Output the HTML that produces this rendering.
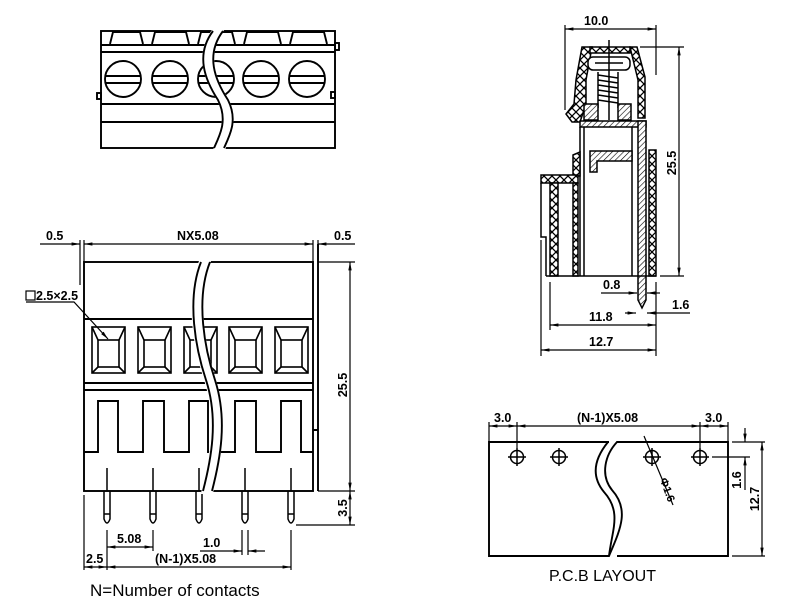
<!DOCTYPE html>
<html><head><meta charset="utf-8"><style>
html,body{margin:0;padding:0;background:#fff;}
svg{display:block;}
text{font-family:"Liberation Sans",sans-serif;fill:#000;}
</style></head><body>
<svg width="800" height="616" viewBox="0 0 800 616" xmlns="http://www.w3.org/2000/svg">
<defs>
<pattern id="xh" width="8" height="8" patternUnits="userSpaceOnUse">
<rect width="8" height="8" fill="#fff"/>
<path d="M0 0L8 8M8 0L0 8" stroke="#000" stroke-width="1.3"/>
</pattern>
<pattern id="dh" width="4" height="4" patternUnits="userSpaceOnUse" patternTransform="rotate(45)">
<rect width="4" height="4" fill="#fff"/>
<line x1="0" y1="0" x2="0" y2="4" stroke="#000" stroke-width="1.2"/>
</pattern>
<marker id="a" viewBox="0 0 10 10" refX="10" refY="5" markerWidth="7" markerHeight="7" orient="auto-start-reverse"><path d="M0 3L10 5L0 7z" fill="#000"/></marker>
</defs>
<g fill="none" stroke="#000" stroke-width="1.9">
<!-- TOP VIEW -->
<rect x="101" y="31" width="234" height="117"/>
<line x1="101" y1="45" x2="335" y2="45"/>
<line x1="101" y1="52" x2="335" y2="52"/>
<line x1="101" y1="104" x2="335" y2="104"/>
<line x1="101" y1="122" x2="335" y2="122"/>
<path d="M110 44L113 32H140L143 44M152 44L155 32H186L189 44M198 44L201 32H232L235 44M244 44L247 32H278L281 44M290 44L293 32H324L327 44"/>
<g>
<circle cx="123" cy="79" r="18"/><circle cx="170" cy="79" r="18"/><circle cx="216" cy="79" r="18"/><circle cx="261" cy="79" r="18"/><circle cx="307" cy="79" r="18"/>
<path d="M105 76H141M105 83H141M152 76H188M152 83H188M198 76H234M198 83H234M243 76H279M243 83H279M289 76H325M289 83H325"/>
</g>
<rect x="97" y="93" width="4" height="6"/><rect x="335" y="43" width="4" height="7"/><rect x="331" y="92" width="4" height="6"/>
<path d="M213 30C195 55 205 80 218 100C228 120 220 135 214 150 L224 150C230 135 238 120 228 100C215 80 205 55 223 30Z" fill="#fff" stroke="#fff"/>
<path d="M213 31C195 55 205 80 218 100C228 120 220 135 214 148M223 31C205 55 215 80 228 100C238 120 230 135 224 148"/>

<!-- FRONT VIEW -->
<rect x="84" y="262" width="229" height="229"/>
<path d="M318 244V430H313M318 430V491"/>
<line x1="84" y1="319" x2="313" y2="319"/>
<line x1="84" y1="383" x2="313" y2="383"/>
<line x1="84" y1="390" x2="313" y2="390"/>
<path d="M84 452H98V401H118V452H143V401H164V452H189V401H208V452H235V401H256V452H281V401H301V452H313"/>
<g stroke-width="1.6">
<rect x="92" y="327" width="33" height="46"/><rect x="98" y="340" width="21" height="27"/><path d="M92 327L98 340M125 327L119 340M92 373L98 367M125 373L119 367"/>
<rect x="138" y="327" width="33" height="46"/><rect x="144" y="340" width="21" height="27"/><path d="M138 327L144 340M171 327L165 340M138 373L144 367M171 373L165 367"/>
<rect x="184" y="327" width="33" height="46"/><rect x="190" y="340" width="21" height="27"/><path d="M184 327L190 340M217 327L211 340M184 373L190 367M217 373L211 367"/>
<rect x="229" y="327" width="33" height="46"/><rect x="235" y="340" width="21" height="27"/><path d="M229 327L235 340M262 327L256 340M229 373L235 367M262 373L256 367"/>
<rect x="275" y="327" width="33" height="46"/><rect x="281" y="340" width="21" height="27"/><path d="M275 327L281 340M308 327L302 340M275 373L281 367M308 373L302 367"/>
</g>
<g stroke-width="1.5">
<path d="M104 491V519Q107 527 110 519V491M104 514H110"/><line x1="107" y1="468" x2="107" y2="491"/>
<path d="M150 491V519Q153 527 156 519V491M150 514H156"/><line x1="153" y1="468" x2="153" y2="491"/>
<path d="M196 491V519Q199 527 202 519V491M196 514H202"/><line x1="199" y1="468" x2="199" y2="491"/>
<path d="M242 491V519Q245 527 248 519V491M242 514H248"/><line x1="245" y1="468" x2="245" y2="491"/>
<path d="M288 491V519Q291 527 294 519V491M288 514H294"/><line x1="291" y1="468" x2="291" y2="491"/>
</g>
<path d="M200 261C185 300 195 350 205 380C218 420 210 460 202 493L212 493C220 460 228 420 215 380C205 350 195 300 210 261Z" fill="#fff" stroke="#fff"/>
<path d="M201 262C186 300 196 350 206 380C219 420 211 460 203 491M210 262C195 300 205 350 215 380C228 420 220 460 212 491"/>
<!-- front dims -->
<g stroke-width="1.2">
<line x1="80" y1="240" x2="80" y2="285"/><line x1="84" y1="240" x2="84" y2="262"/>
<line x1="313" y1="240" x2="313" y2="262"/><line x1="318" y1="240" x2="318" y2="262"/>
<line x1="40" y1="244" x2="80" y2="244" marker-end="url(#a)"/>
<line x1="84" y1="244" x2="313" y2="244" marker-start="url(#a)" marker-end="url(#a)"/>
<line x1="318" y1="244" x2="355" y2="244" marker-start="url(#a)"/>
<line x1="318" y1="262" x2="355" y2="262"/><line x1="318" y1="491" x2="355" y2="491"/><line x1="296" y1="525" x2="355" y2="525"/>
<line x1="350" y1="262" x2="350" y2="491" marker-start="url(#a)" marker-end="url(#a)"/>
<line x1="350" y1="491" x2="350" y2="525" marker-start="url(#a)" marker-end="url(#a)"/>
<line x1="84" y1="495" x2="84" y2="570"/><line x1="107" y1="530" x2="107" y2="570"/><line x1="153" y1="530" x2="153" y2="551"/><line x1="291" y1="530" x2="291" y2="570"/>
<line x1="242" y1="530" x2="242" y2="555"/><line x1="248" y1="530" x2="248" y2="555"/>
<line x1="107" y1="547" x2="153" y2="547" marker-start="url(#a)" marker-end="url(#a)"/>
<line x1="200" y1="551" x2="242" y2="551" marker-end="url(#a)"/><line x1="248" y1="551" x2="265" y2="551" marker-start="url(#a)"/>
<line x1="107" y1="567" x2="291" y2="567" marker-start="url(#a)" marker-end="url(#a)"/>
<line x1="84" y1="567" x2="107" y2="567" marker-start="url(#a)" marker-end="url(#a)"/>
<path d="M26 302H74L108 339" marker-end="url(#a)"/>
<rect x="26" y="291" width="9" height="9" stroke-width="1.2"/>
</g>

<!-- SIDE VIEW -->
<g stroke-width="1.5">
<path d="M582 47H592L586 80L586 104L580 122H572L566 114L574 104L576 80Z" fill="url(#xh)"/>
<path d="M630 47H637L645 77V118H638V80Z" fill="url(#xh)"/>
<rect x="590" y="47" width="40" height="6" fill="url(#xh)"/>
<rect x="588" y="57" width="42" height="13" rx="5" fill="#fff"/>
<path d="M609 40V120M595 63H623"/>
<path d="M598 72V108M618 72V108M598 75L618 78M598 80L618 83M598 85L618 88M598 90L618 93M598 95L618 98M598 100L618 103"/>
<rect x="584" y="104" width="14" height="16" fill="url(#dh)"/>
<rect x="618" y="104" width="13" height="16" fill="url(#dh)"/>
<path d="M580 121H646V127H580Z" fill="url(#dh)"/>
<path d="M638 121L646 121L646 300L642 308L638 300Z" fill="url(#dh)"/>
<path d="M580 127V276M584 127V276M632 127V276"/>
<path d="M590 151H632V161H597V172H590Z" fill="url(#dh)"/>
<rect x="649" y="150" width="7" height="126" fill="url(#xh)"/>
<path d="M573 155L580 152V176H573Z" fill="url(#xh)"/>
<path d="M541 175H578V183H541Z" fill="url(#xh)"/>
<rect x="550" y="183" width="8" height="93" fill="url(#xh)"/>
<rect x="573" y="183" width="5" height="93" fill="url(#xh)"/>
<path d="M541 183V237H546V276M550 276H656M546 276H550"/>
</g>
<g stroke-width="1.2">
<line x1="565" y1="25" x2="565" y2="110"/><line x1="656" y1="25" x2="656" y2="75"/>
<line x1="565" y1="29" x2="656" y2="29" marker-start="url(#a)" marker-end="url(#a)"/>
<line x1="640" y1="47" x2="684" y2="47"/><line x1="660" y1="276" x2="684" y2="276"/>
<line x1="679" y1="47" x2="679" y2="276" marker-start="url(#a)" marker-end="url(#a)"/>
<line x1="541" y1="240" x2="541" y2="356"/><line x1="550" y1="282" x2="550" y2="330"/><line x1="656" y1="282" x2="656" y2="356"/>
<line x1="601" y1="293" x2="637" y2="293" marker-end="url(#a)"/><line x1="647" y1="293" x2="660" y2="293" marker-start="url(#a)"/>
<line x1="625" y1="313" x2="636" y2="313" marker-end="url(#a)"/><line x1="647" y1="313" x2="690" y2="313" marker-start="url(#a)"/>
<line x1="550" y1="325" x2="656" y2="325" marker-start="url(#a)" marker-end="url(#a)"/>
<line x1="541" y1="350" x2="656" y2="350" marker-start="url(#a)" marker-end="url(#a)"/>
</g>

<!-- PCB -->
<path d="M609 442H489V556H609C620 530 630 510 612 490C600 475 605 455 617 442H728V556H617"/>
<path d="M608 442C595 458 590 475 604 492C622 512 612 530 609 556" />
<g stroke-width="1.5">
<circle cx="517" cy="457" r="6.5"/><path d="M508 457H526M517 448V466"/>
<circle cx="559" cy="457" r="6.5"/><path d="M550 457H568M559 448V466"/>
<circle cx="652" cy="457" r="6.5"/><path d="M643 457H661M652 448V466"/>
<circle cx="700" cy="457" r="6.5"/><path d="M691 457H709M700 448V466"/>
</g>
<g stroke-width="1.2">
<line x1="489" y1="422" x2="489" y2="442"/><line x1="517" y1="422" x2="517" y2="448"/><line x1="700" y1="422" x2="700" y2="448"/><line x1="728" y1="422" x2="728" y2="442"/>
<line x1="489" y1="426" x2="517" y2="426" marker-start="url(#a)" marker-end="url(#a)"/>
<line x1="517" y1="426" x2="700" y2="426" marker-start="url(#a)" marker-end="url(#a)"/>
<line x1="700" y1="426" x2="728" y2="426" marker-start="url(#a)" marker-end="url(#a)"/>
<line x1="732" y1="442" x2="765" y2="442"/><line x1="712" y1="457" x2="750" y2="457"/><line x1="732" y1="556" x2="765" y2="556"/>
<line x1="745" y1="428" x2="745" y2="442" marker-end="url(#a)"/><line x1="745" y1="457" x2="745" y2="490" marker-start="url(#a)"/>
<line x1="762" y1="442" x2="762" y2="556" marker-start="url(#a)" marker-end="url(#a)"/>
<line x1="644" y1="436" x2="673" y2="505"/>
</g>
</g>
<g font-size="12.5" font-weight="bold">
<text x="46" y="240">0.5</text>
<text x="177" y="240">NX5.08</text>
<text x="334" y="240">0.5</text>
<text x="36" y="300">2.5×2.5</text>
<text x="0" y="0" transform="translate(347,385) rotate(-90)" text-anchor="middle">25.5</text>
<text x="0" y="0" transform="translate(347,508) rotate(-90)" text-anchor="middle">3.5</text>
<text x="117" y="543">5.08</text>
<text x="203" y="547">1.0</text>
<text x="155" y="563">(N-1)X5.08</text>
<text x="86" y="563">2.5</text>
<text x="584" y="25">10.0</text>
<text x="0" y="0" transform="translate(676,163) rotate(-90)" text-anchor="middle">25.5</text>
<text x="603" y="289">0.8</text>
<text x="672" y="309">1.6</text>
<text x="589" y="321">11.8</text>
<text x="589" y="346">12.7</text>
<text x="494" y="422">3.0</text>
<text x="577" y="422">(N-1)X5.08</text>
<text x="705" y="422">3.0</text>
<text x="0" y="0" transform="translate(741,480) rotate(-90)" text-anchor="middle">1.6</text>
<text x="0" y="0" transform="translate(759,499) rotate(-90)" text-anchor="middle">12.7</text>
<text x="0" y="0" transform="translate(664,491) rotate(70)" text-anchor="middle" font-size="11">Ф1.6</text>
</g>
<text x="90" y="596" font-size="17">N=Number of contacts</text>
<text x="549" y="581" font-size="16">P.C.B LAYOUT</text>
</svg>
</body></html>
